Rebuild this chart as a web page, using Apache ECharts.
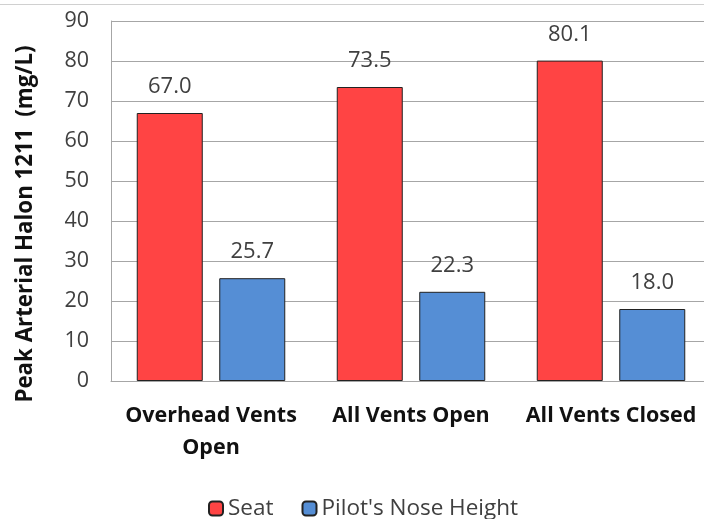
<!DOCTYPE html>
<html>
<head>
<meta charset="utf-8">
<script src="https://cdn.jsdelivr.net/npm/echarts@6/dist/echarts.min.js"></script>
<style>
  html, body { margin: 0; padding: 0; background: #fff; }
  #chart { width: 704px; height: 519px; }
  #topline { position: absolute; left: 0; top: 4px; width: 704px; height: 1px; background: #d0d0d0; }
</style>
</head>
<body>
<div id="topline"></div>
<div id="chart"></div>
<script>
// Peak arterial Halon 1211 by ventilation condition
const categories = ['Overhead Vents\nOpen', 'All Vents Open', 'All Vents Closed'];
const seatValues = [67.0, 73.5, 80.1];
const noseValues = [25.7, 22.3, 18.0];
const yTicks = { min: 0, max: 90, interval: 10 };

const FONT = '"Open Sans", "Noto Sans", sans-serif';
const chart = echarts.init(document.getElementById('chart'), null, { renderer: 'canvas' });

const labelStyle = {
  show: true,
  position: 'top',
  distance: 15,
  fontFamily: FONT,
  fontSize: 22,
  color: '#404040',
  formatter: p => p.value.toFixed(1)
};

chart.setOption({
  animation: false,
  grid: { left: 111, width: 600, top: 21, bottom: 138, outerBoundsMode: 'none' },
  legend: {
    left: 203,
    top: 492,
    itemWidth: 14,
    itemHeight: 14,
    itemGap: 28,
    textStyle: { fontFamily: FONT, fontSize: 22.5, color: '#404040' },
    data: ['Seat', "Pilot's Nose Height"]
  },
  xAxis: {
    type: 'category',
    data: categories,
    axisLine: { lineStyle: { color: '#a6a6a6', width: 1 } },
    axisTick: { show: false },
    axisLabel: {
      interval: 0,
      margin: 19,
      fontFamily: FONT,
      fontSize: 21.5,
      fontWeight: 'bold',
      color: '#111',
      lineHeight: 32
    }
  },
  yAxis: {
    type: 'value',
    min: yTicks.min,
    max: yTicks.max,
    interval: yTicks.interval,
    name: 'Peak Arterial Halon 1211  (mg/L)',
    nameLocation: 'middle',
    nameRotate: 90,
    nameGap: 74,
    nameTextStyle: {
      fontFamily: FONT, fontSize: 22.3, fontWeight: 'bold', color: '#111',
      padding: [0, 46, 0, 0]
    },
    axisLine: { show: true, lineStyle: { color: '#a6a6a6', width: 1 } },
    axisTick: { show: false },
    splitLine: { lineStyle: { color: '#a6a6a6', width: 1 } },
    axisLabel: { margin: 22, fontFamily: FONT, fontSize: 21.5, color: '#404040' }
  },
  series: [
    {
      name: 'Seat',
      type: 'bar',
      data: seatValues,
      barWidth: '33%',
      barGap: '25%',
      itemStyle: { color: '#ff4444', borderColor: '#222', borderWidth: 1 },
      label: labelStyle
    },
    {
      name: "Pilot's Nose Height",
      type: 'bar',
      data: noseValues,
      barWidth: '33%',
      itemStyle: { color: '#558ed5', borderColor: '#222', borderWidth: 1 },
      label: labelStyle
    }
  ]
});
</script>
</body>
</html>
